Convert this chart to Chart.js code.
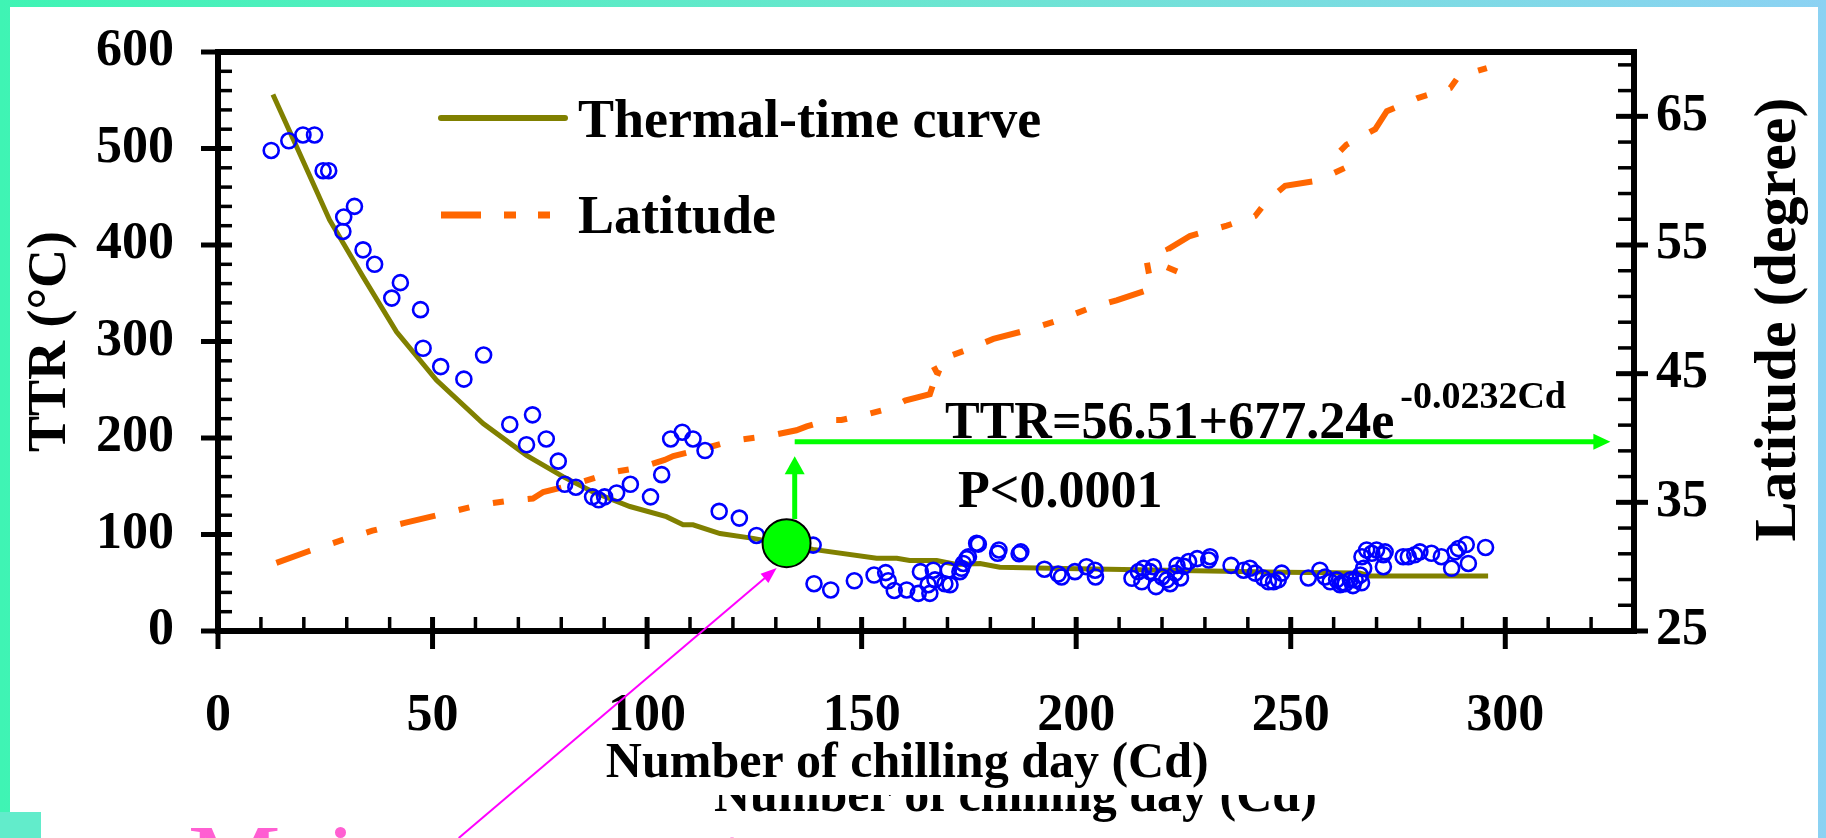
<!DOCTYPE html>
<html>
<head>
<meta charset="utf-8">
<style>
  html, body { margin: 0; padding: 0; background: #fff; }
  canvas { display: block; }
</style>
</head>
<body>
<canvas id="myChart" width="1826" height="838"></canvas>
<script src="https://cdn.jsdelivr.net/npm/chart.js@4.4.1/dist/chart.umd.min.js"></script>
<script>
// ---- data ----
var xTickValues = [0, 50, 100, 150, 200, 250, 300];
var yTickValues = [0, 100, 200, 300, 400, 500, 600];
var y2TickValues = [25, 35, 45, 55, 65];

// observed TTR (blue open circles)
var ttrX = [12.4, 16.5, 19.8, 22.5, 24.5, 25.8, 29.3, 31.8, 29.1, 33.8, 36.5, 42.5, 40.5, 47.2, 47.8, 51.9, 57.3, 61.9,
  68.0, 73.3, 71.9, 76.5, 79.3, 80.8, 83.4, 87.3, 88.7, 90.1, 92.9, 96.1, 100.8, 103.4, 105.5, 108.2, 110.7, 113.5,
  116.8, 121.5, 125.5, 138.7, 138.9, 142.8, 148.3, 152.9, 155.6, 156.2, 157.6, 160.5, 163.2, 163.7, 165.9, 165.5,
  166.7, 167.1, 169.4, 170.6, 170.2, 172.9, 173.7, 174.5, 176.8, 173.3, 174.9, 177.2, 181.7, 182.0, 186.7, 187.1,
  192.6, 195.8, 196.6, 199.7, 202.4, 204.4, 204.5, 213.0, 214.5, 215.7, 215.3, 217.2, 218.6, 218.0, 220.0, 221.1,
  221.9, 223.1, 223.5, 224.3, 225.1, 226.2, 228.2, 230.9, 231.2, 236.1, 239.0, 240.5, 241.7, 243.6, 244.8, 246.0,
  247.1, 247.9, 254.1, 256.8, 258.0, 259.2, 260.7, 261.5, 262.7, 263.9, 265.0, 266.2, 267.0, 266.6, 267.7, 268.9,
  270.0, 271.6, 271.6, 272.0, 276.2, 277.4, 278.9, 280.1, 282.8, 285.1, 287.5, 288.3, 289.1, 290.9, 291.4, 295.4,
  262.0, 264.5, 266.5];
var ttrY = [498, 508, 514, 514, 477, 477, 429, 440, 414, 395, 380, 361, 345, 333, 293, 274, 261, 286,
  214, 224, 193, 199, 176, 152, 149, 139, 136, 139, 143, 152, 139, 162, 199, 206, 199, 187,
  124, 117, 99, 89, 49, 42.5, 52, 58, 60.5, 52, 42, 42.5, 39, 61.5, 39, 48,
  63, 53, 49, 48, 63, 61.5, 70, 75, 91, 65, 77, 90, 80.5, 84, 80, 82,
  64, 59, 56, 61.5, 66.6, 63, 56, 54.6, 61.5, 65, 51, 61.5, 46, 66.6, 56, 53,
  49, 60, 68, 55, 67, 72, 75, 73.5, 77, 68, 63, 65, 60, 55, 51, 51,
  53, 60, 55, 63, 56, 51, 53, 48, 49, 53, 53, 58, 65, 77, 84, 80.5,
  84, 79, 66.6, 82, 77, 77, 79, 82, 80.5, 77, 65, 82, 85.5, 89.6, 70, 86.6,
  50, 47, 50];

// thermal-time curve
var curveX = [12.8, 18.3, 26.0, 33.8, 41.6, 50.9, 61.8, 71.9, 80.4, 87.4, 96.0, 104.5, 108.4, 110.7, 117.0, 124.7,
  138.7, 153.5, 158.2, 161.2, 167.5, 172.1, 177.6, 182.2, 193.9, 248.3, 266.0, 268.5, 296.0];
var curveY = [556, 502, 426, 367, 310, 260, 215, 182, 160, 144, 129, 118.5, 110, 110, 101, 96,
  84.6, 75.3, 75.3, 73, 73, 69, 70, 66, 65, 61, 60, 57, 57];

// latitude of the sites (right axis)
var latX = [13.6, 21.1, 29.2, 36.0, 43.5, 52.3, 61.0, 67.2, 73.4, 75.8, 82.0, 89.7, 92.1, 98.3, 104.1, 106.1, 114.6,
  120.0, 129.0, 134.8, 137.2, 142.6, 145.3, 150.8, 156.6, 160.1, 165.9, 166.7, 169.8, 167.5, 166.7, 168.2, 174.1,
  180.7, 188.8, 195.4, 203.2, 209.4, 217.6, 216.4, 219.5, 223.8, 221.5, 226.5, 235.1, 241.7, 244.4, 248.7, 256.1,
  262.7, 260.3, 263.0, 269.7, 272.4, 279.4, 287.2, 289.1, 295.7];
var latY = [30.3, 31.2, 32.1, 32.8, 33.4, 34.1, 34.8, 35.1, 35.3, 35.8, 36.3, 37.1, 37.35, 37.7, 38.3, 38.6, 39.3,
  39.8, 40.2, 40.6, 40.9, 41.4, 41.4, 41.8, 42.3, 42.9, 43.4, 44.2, 44.8, 45.1, 45.6, 46.1, 46.8,
  47.7, 48.4, 49.1, 50.1, 50.7, 51.6, 53.8, 53.5, 52.9, 54.7, 55.7, 56.5, 57.25, 58.4, 59.6, 60.0,
  61.0, 61.9, 62.8, 64.0, 65.4, 66.4, 67.2, 68.1, 68.75];

// highlighted point and annotation positions (data units)
var markerX = [132.5];
var markerY = [91];
var upArrow = { x: 134.4, from: 116, to: 181 };          // TTR units
var rightArrow = { y: 196, from: 134.4, to: 324.5 };     // TTR units / Cd units
var pinkArrow = { x0: 56.1, y0: -214.5, x1: 130.2, y1: 65.3 };

function pts(xs, ys) {
  return xs.map(function (x, i) { return { x: x, y: ys[i] }; });
}

var SERIF = '"Liberation Serif", "Times New Roman", serif';
var OLIVE = '#808000', ORANGE = '#ff6600', BLUE = '#0000ff', LIME = '#00ff00';
var latDash = [36, 24, 11, 24, 11, 24];

function line(ctx, x1, y1, x2, y2, w, c) {
  ctx.beginPath();
  ctx.lineWidth = w;
  ctx.strokeStyle = c || '#000';
  ctx.moveTo(x1, y1);
  ctx.lineTo(x2, y2);
  ctx.stroke();
}

function arrowHead(ctx, x, y, ang, len, half, c) {
  ctx.save();
  ctx.translate(x, y);
  ctx.rotate(ang);
  ctx.beginPath();
  ctx.moveTo(0, 0);
  ctx.lineTo(-len, -half);
  ctx.lineTo(-len, half);
  ctx.closePath();
  ctx.fillStyle = c;
  ctx.fill();
  ctx.restore();
}

// frame, axes box, ticks, legend, annotations
var decor = {
  id: 'decor',
  beforeDraw: function (chart) {
    var ctx = chart.ctx, W = chart.width, H = chart.height;
    ctx.save();
    var g = ctx.createLinearGradient(0, 0, W, 0);
    g.addColorStop(0, '#3ff4b4');
    g.addColorStop(0.5, '#6ae6d0');
    g.addColorStop(1, '#8cd2f3');
    ctx.fillStyle = g;
    ctx.fillRect(0, 0, W, H);
    ctx.fillStyle = '#ffffff';
    ctx.fillRect(10, 7, W - 18, H - 7);
    ctx.fillStyle = '#62eccb';
    ctx.fillRect(0, 812, 41, H - 812);
    ctx.restore();
  },
  afterDraw: function (chart) {
    var ctx = chart.ctx, a = chart.chartArea;
    var xs = chart.scales.x, ys = chart.scales.y, y2 = chart.scales.y2;
    ctx.save();
    ctx.lineCap = 'butt';

    // box
    ctx.lineWidth = 6;
    ctx.strokeStyle = '#000';
    ctx.strokeRect(a.left, a.top, a.right - a.left, a.bottom - a.top);

    // x ticks
    var v, p;
    for (v = 0; v < 330; v += 10) {
      p = xs.getPixelForValue(v);
      if (v % 50 === 0) line(ctx, p, a.bottom - 14, p, a.bottom + 18, 5);
      else line(ctx, p, a.bottom - 14, p, a.bottom, 3.5);
    }
    // left ticks
    for (v = 0; v <= 600; v += 20) {
      p = ys.getPixelForValue(v);
      if (v % 100 === 0) line(ctx, a.left - 17, p, a.left + 14, p, 5);
      else line(ctx, a.left, p, a.left + 14, p, 3.5);
    }
    // right ticks
    for (v = 25; v < 70; v += 2) {
      p = y2.getPixelForValue(v);
      if ((v - 25) % 10 === 0) line(ctx, a.right - 18, p, a.right + 14, p, 5);
      else line(ctx, a.right - 16, p, a.right, p, 3.5);
    }

    // right axis title (reads bottom to top)
    ctx.save();
    ctx.translate(1779, (a.top + a.bottom) / 2 - 22);
    ctx.rotate(-Math.PI / 2);
    ctx.font = 'bold 60px ' + SERIF;
    ctx.fillStyle = '#000';
    ctx.textAlign = 'center';
    ctx.textBaseline = 'middle';
    ctx.fillText('Latitude (degree)', 0, 0);
    ctx.restore();

    // legend
    var lx = a.left + 223;
    ctx.lineCap = 'round';
    line(ctx, lx, 118, lx + 124, 118, 6, OLIVE);
    ctx.lineCap = 'butt';
    ctx.setLineDash([40, 23, 12, 22, 12, 30]);
    line(ctx, lx, 215, lx + 124, 215, 7, ORANGE);
    ctx.setLineDash([]);
    ctx.font = 'bold 54px ' + SERIF;
    ctx.fillStyle = '#000';
    ctx.textAlign = 'left';
    ctx.textBaseline = 'alphabetic';
    ctx.fillText('Thermal-time curve', lx + 137, 137);
    ctx.fillText('Latitude', lx + 137, 233);

    // green arrows
    var ux = xs.getPixelForValue(upArrow.x);
    var uy0 = ys.getPixelForValue(upArrow.from), uy1 = ys.getPixelForValue(upArrow.to);
    line(ctx, ux, uy0, ux, uy1 + 16, 5, LIME);
    arrowHead(ctx, ux, uy1, -Math.PI / 2, 18, 10, LIME);
    var ry = ys.getPixelForValue(rightArrow.y);
    var rx0 = xs.getPixelForValue(rightArrow.from), rx1 = xs.getPixelForValue(rightArrow.to);
    line(ctx, rx0, ry, rx1 - 14, ry, 5, LIME);
    arrowHead(ctx, rx1, ry, 0, 17, 8, LIME);

    // equation text
    ctx.fillStyle = '#000';
    ctx.font = 'bold 52px ' + SERIF;
    ctx.fillText('TTR=56.51+677.24e', 945, 438);
    var w = ctx.measureText('TTR=56.51+677.24e').width;
    ctx.font = 'bold 38px ' + SERIF;
    ctx.fillText('-0.0232Cd', 945 + w + 6, 408);
    ctx.font = 'bold 52px ' + SERIF;
    ctx.fillText('P<0.0001', 958, 507);

    // ghost of the axis title below (mostly covered)
    ctx.save();
    ctx.beginPath();
    ctx.rect(0, 795, chart.width, 50);
    ctx.clip();
    ctx.font = 'bold 50px ' + SERIF;
    ctx.fillStyle = '#000';
    ctx.fillText('Number of chilling day (Cd)', 714, 811);
    ctx.restore();

    // pink caption at the bottom (cut off)
    ctx.font = '104px ' + SERIF;
    ctx.fillStyle = '#ff5fd2';
    ctx.fillText('Main', 188, 896);
    ctx.fillText('t', 718, 896);

    // magenta arrow
    var mx0 = xs.getPixelForValue(pinkArrow.x0), my0 = ys.getPixelForValue(pinkArrow.y0);
    var mx1 = xs.getPixelForValue(pinkArrow.x1), my1 = ys.getPixelForValue(pinkArrow.y1);
    var ang = Math.atan2(my1 - my0, mx1 - mx0);
    line(ctx, mx0, my0, mx1 - 12 * Math.cos(ang), my1 - 12 * Math.sin(ang), 2, '#ff00ff');
    arrowHead(ctx, mx1, my1, ang, 16, 6, '#ff00ff');

    ctx.restore();
  }
};

var ctx = document.getElementById('myChart').getContext('2d');
new Chart(ctx, {
  type: 'scatter',
  data: {
    datasets: [
      {
        label: 'Optimum point',
        data: pts(markerX, markerY),
        pointRadius: 24,
        pointBackgroundColor: LIME,
        pointBorderColor: '#000',
        pointBorderWidth: 2,
        order: 0
      },
      {
        label: 'TTR',
        data: pts(ttrX, ttrY),
        pointRadius: 7.5,
        pointBackgroundColor: 'rgba(0,0,0,0)',
        pointBorderColor: BLUE,
        pointBorderWidth: 2.6,
        order: 1
      },
      {
        label: 'Latitude',
        type: 'line',
        yAxisID: 'y2',
        data: pts(latX, latY),
        borderColor: ORANGE,
        borderWidth: 6,
        borderDash: latDash,
        borderCapStyle: 'butt',
        pointRadius: 0,
        tension: 0,
        fill: false,
        order: 2
      },
      {
        label: 'Thermal-time curve',
        type: 'line',
        data: pts(curveX, curveY),
        borderColor: OLIVE,
        borderWidth: 5,
        pointRadius: 0,
        tension: 0,
        fill: false,
        order: 3
      }
    ]
  },
  options: {
    responsive: false,
    devicePixelRatio: 1,
    animation: false,
    layout: { padding: { top: 52, left: 0, right: 0, bottom: 0 } },
    plugins: {
      legend: { display: false },
      tooltip: { enabled: false }
    },
    scales: {
      x: {
        type: 'linear',
        min: 0, max: 330,
        grid: { display: false, drawTicks: false },
        border: { display: false },
        afterBuildTicks: function (s) { s.ticks = xTickValues.map(function (v) { return { value: v }; }); },
        afterFit: function (s) { s.height = 207; s.paddingLeft = 0; s.paddingRight = 0; },
        ticks: {
          padding: 54,
          color: '#000',
          maxRotation: 0,
          font: { family: SERIF, size: 52, weight: 'bold' }
        },
        title: {
          display: true,
          text: 'Number of chilling day (Cd)   ',
          color: '#000',
          padding: { top: 0, bottom: 44 },
          font: { family: SERIF, size: 50, weight: 'bold' }
        }
      },
      y: {
        type: 'linear',
        position: 'left',
        min: 0, max: 600,
        grid: { display: false, drawTicks: false },
        border: { display: false },
        afterBuildTicks: function (s) { s.ticks = yTickValues.map(function (v) { return { value: v }; }); },
        afterFit: function (s) { s.width = 218; s.paddingTop = 0; s.paddingBottom = 0; },
        ticks: {
          padding: 44,
          color: '#000',
          font: { family: SERIF, size: 52, weight: 'bold' }
        },
        title: {
          display: true,
          text: 'TTR (\u00b0C)',
          color: '#000',
          padding: { top: 19, bottom: 0 },
          font: { family: SERIF, size: 54, weight: 'bold' }
        }
      },
      y2: {
        type: 'linear',
        position: 'right',
        min: 25, max: 70,
        grid: { display: false, drawTicks: false },
        border: { display: false },
        afterBuildTicks: function (s) { s.ticks = y2TickValues.map(function (v) { return { value: v }; }); },
        afterFit: function (s) { s.width = 192; s.paddingTop = 0; s.paddingBottom = 0; },
        ticks: {
          padding: 22,
          color: '#000',
          font: { family: SERIF, size: 52, weight: 'bold' }
        }
      }
    }
  },
  plugins: [decor]
});
</script>
</body>
</html>
